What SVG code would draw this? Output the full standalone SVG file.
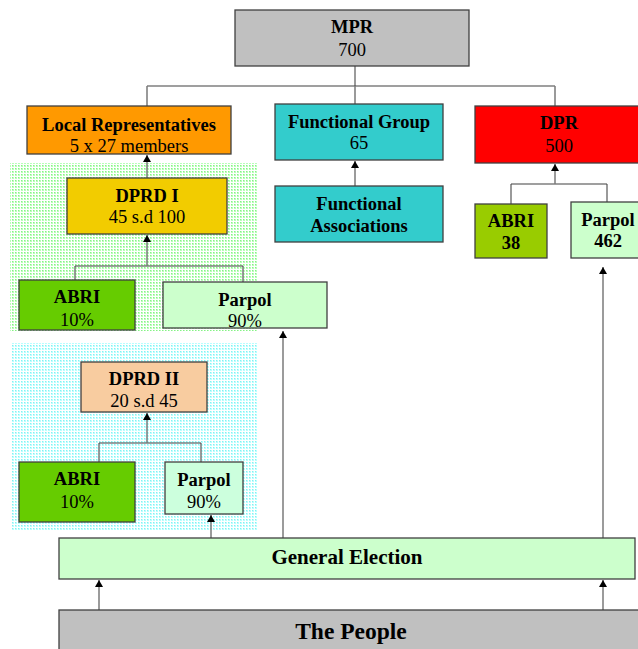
<svg xmlns="http://www.w3.org/2000/svg" width="638" height="649" viewBox="0 0 638 649">
<defs>
<pattern id="pg" width="3" height="3" patternUnits="userSpaceOnUse"><rect width="3" height="3" fill="#ffffff"/><rect width="2" height="2" fill="#b8ffb8"/><rect x="0" y="0" width="1" height="1" fill="#88ee88"/></pattern>
<pattern id="pc" width="3" height="3" patternUnits="userSpaceOnUse"><rect width="3" height="3" fill="#ffffff"/><rect width="2" height="2" fill="#b8ffff"/><rect x="0" y="0" width="1" height="1" fill="#88eeee"/></pattern>
<marker id="ah" markerWidth="7" markerHeight="8" refX="7" refY="4" orient="auto" markerUnits="userSpaceOnUse" viewBox="0 0 7 8">
<path d="M0,0 L7,4 L0,8 Z" fill="#000"/>
</marker>
</defs>
<style>
.box{stroke:#404040;stroke-width:1.3}
.t{font-family:"Liberation Serif","Times New Roman",serif;font-size:18.5px;fill:#000;text-anchor:middle}
.b{font-weight:bold}
.ln{fill:none;stroke:#7a7a7a;stroke-width:1.5}
.hl{fill:none;stroke:#404040;stroke-width:1.2}
.ar{fill:none;stroke:#7a7a7a;stroke-width:1.5;marker-end:url(#ah)}
</style>
<rect x="10" y="163" width="248" height="168" fill="url(#pg)"/>
<rect x="12" y="343" width="246" height="188" fill="url(#pc)"/>
<g id="connectors">
<path class="ln" d="M355,66 V86"/>
<path class="hl" d="M147,86 H555"/>
<path class="ln" d="M147,86 V106 M355,86 V104 M555,86 V106"/>
<path class="ar" d="M147,178 V155"/>
<path class="ln" d="M75,280 V266 M243,282 V266"/>
<path class="hl" d="M75,266 H243"/>
<path class="ar" d="M147,266 V235"/>
<path class="ar" d="M355,186 V161"/>
<path class="ln" d="M511,204 V184 M607,202 V184"/>
<path class="hl" d="M511,184 H607"/>
<path class="ar" d="M555,184 V164"/>
<path class="ln" d="M99,462 V443 M201,462 V443"/>
<path class="hl" d="M99,443 H201"/>
<path class="ar" d="M147,443 V413"/>
<path class="ar" d="M211,538 V515"/>
<path class="ar" d="M283,538 V331"/>
<path class="ar" d="M603,538 V267"/>
<path class="ar" d="M99,610 V580"/>
<path class="ar" d="M603,610 V580"/>
</g>
<g id="mpr"><rect class="box" x="235" y="10" width="234" height="56" fill="#c0c0c0"/><text class="t b" x="352" y="33">MPR</text><text class="t" x="352" y="56">700</text></g>
<g id="local-reps"><rect class="box" x="27" y="106" width="204" height="48" fill="#ff9900"/><text class="t b" x="129" y="131">Local Representatives</text><text class="t" x="129" y="152">5 x 27 members</text></g>
<g id="functional-group"><rect class="box" x="275" y="104" width="168" height="56" fill="#33cccc"/><text class="t b" x="359" y="128">Functional Group</text><text class="t" x="359" y="149">65</text></g>
<g id="dpr"><rect class="box" x="475" y="106" width="170" height="57" fill="#ff0000"/><text class="t b" x="559" y="129">DPR</text><text class="t" x="559" y="152">500</text></g>
<g id="functional-associations"><rect class="box" x="275" y="186" width="168" height="56" fill="#33cccc"/><text class="t b" x="359" y="210">Functional</text><text class="t b" x="359" y="232">Associations</text></g>
<g id="dpr-abri"><rect class="box" x="475" y="204" width="72" height="54" fill="#99cc00"/><text class="t b" x="511" y="227">ABRI</text><text class="t b" x="511" y="249">38</text></g>
<g id="dpr-parpol"><rect class="box" x="571" y="202" width="74" height="56" fill="#ccffcc"/><text class="t b" x="608" y="226">Parpol</text><text class="t b" x="608" y="247">462</text></g>
<g id="dprd1"><rect class="box" x="67" y="178" width="160" height="56" fill="#f2cc00"/><text class="t b" x="147" y="202">DPRD I</text><text class="t" x="147" y="223">45 s.d 100</text></g>
<g id="dprd1-abri"><rect class="box" x="19" y="280" width="116" height="50" fill="#66cc00"/><text class="t b" x="77" y="303">ABRI</text><text class="t" x="77" y="326">10%</text></g>
<g id="dprd1-parpol"><rect class="box" x="163" y="282" width="164" height="46" fill="#ccffcc"/><text class="t b" x="245" y="306">Parpol</text><text class="t" x="245" y="327">90%</text></g>
<g id="dprd2"><rect class="box" x="81" y="362" width="126" height="50" fill="#f8cca0"/><text class="t b" x="144" y="385">DPRD II</text><text class="t" x="144" y="407">20 s.d 45</text></g>
<g id="dprd2-abri"><rect class="box" x="19" y="462" width="116" height="60" fill="#66cc00"/><text class="t b" x="77" y="485">ABRI</text><text class="t" x="77" y="508">10%</text></g>
<g id="dprd2-parpol"><rect class="box" x="165" y="462" width="78" height="52" fill="#ccffdd"/><text class="t b" x="204" y="486">Parpol</text><text class="t" x="204" y="508">90%</text></g>
<g id="general-election"><rect class="box" x="59" y="538" width="576" height="41" fill="#ccffcc"/><text class="t b" x="347" y="564" style="font-size:21px">General Election</text></g>
<g id="the-people"><rect class="box" x="59" y="610" width="590" height="50" fill="#c0c0c0"/><text class="t b" x="351" y="639" style="font-size:23.5px">The People</text></g>
</svg>
